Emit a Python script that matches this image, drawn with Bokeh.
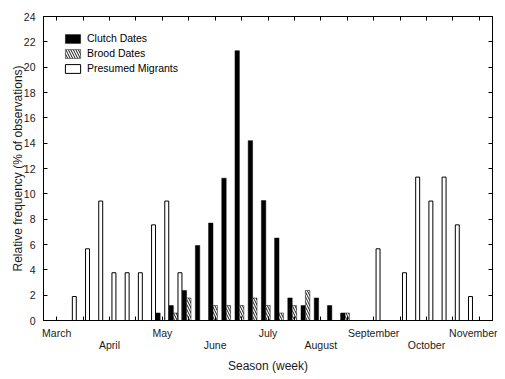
from bokeh.plotting import figure
from bokeh.models import LinearAxis, FixedTicker, Range1d, ColumnDataSource
from bokeh.transform import dodge
from bokeh.embed import file_html
from bokeh.resources import INLINE

# week index: 0 = start of March, 4 weeks per month label
weeks = list(range(33))
clutch_weeks = [8, 9, 10, 11, 12, 13, 14, 15, 16, 17, 18, 19, 20, 21, 22]
clutch_vals = [0.59, 1.18, 2.37, 5.92, 7.69, 11.24, 21.3, 14.2, 9.47, 6.51, 1.78, 1.18, 1.78, 1.18, 0.59]
brood_weeks = [9, 10, 12, 13, 14, 15, 16, 17, 18, 19, 22]
brood_vals = [0.59, 1.78, 1.18, 1.18, 1.18, 1.78, 1.18, 0.59, 1.18, 2.37, 0.59]
migr_weeks = [1, 2, 3, 4, 5, 6, 7, 8, 9, 24, 26, 27, 28, 29, 30, 31]
migr_vals = [1.89, 5.66, 9.43, 3.77, 3.77, 3.77, 7.55, 9.43, 3.77, 5.66, 3.77, 11.32, 9.43, 11.32, 7.55, 1.89]

month_ticks_row1 = [0, 8, 16, 24, 32]
month_names_row1 = ["March", "May", "July", "September", "November"]
month_ticks_row2 = [4, 12, 20, 28]
month_names_row2 = ["April", "June", "August", "October"]
week_ticks = list(range(0, 33, 2))
y_ticks = list(range(0, 25, 2))

FONT = "Liberation Sans"

p = figure(frame_width=449, frame_height=304, output_backend="svg", toolbar_location=None,
           x_range=Range1d(-1, 33), y_range=Range1d(0, 24),
           x_axis_location=None, y_axis_location=None,
           min_border_left=43, min_border_right=5, min_border_top=16, min_border_bottom=8)
p.xgrid.visible = False
p.ygrid.visible = False
p.outline_line_color = "black"
p.outline_line_width = 1
p.background_fill_color = "white"
p.border_fill_color = "white"

bw = 1 / 3
src_c = ColumnDataSource(dict(w=clutch_weeks, v=clutch_vals))
src_b = ColumnDataSource(dict(w=brood_weeks, v=brood_vals))
src_m = ColumnDataSource(dict(w=migr_weeks, v=migr_vals))

p.vbar(x=dodge("w", -bw), top="v", width=bw, source=src_c, fill_color="black",
       line_color="black", line_width=0.5, legend_label="Clutch Dates")
p.vbar(x="w", top="v", width=bw, source=src_b, fill_color="white", line_color="black",
       line_width=0.5, hatch_pattern="left_diagonal_line", hatch_color="black", hatch_scale=5,
       hatch_weight=0.9, legend_label="Brood Dates")
p.vbar(x=dodge("w", bw), top="v", width=bw * 0.9, source=src_m, fill_color="white",
       line_color="black", line_width=1, legend_label="Presumed Migrants")

def style_axis(ax, label_size="10.5px"):
    ax.major_tick_in = 4
    ax.major_tick_out = 0
    ax.minor_tick_line_color = None
    ax.axis_line_color = "black"
    ax.major_tick_line_color = "black"
    ax.major_label_text_font = FONT
    ax.major_label_text_font_size = label_size
    ax.major_label_text_color = "#1a1a1a"
    ax.axis_label_text_font = FONT
    ax.axis_label_text_font_size = "12px"
    ax.axis_label_text_font_style = "normal"
    ax.axis_label_text_color = "#1a1a1a"

# left
yl = LinearAxis(ticker=FixedTicker(ticks=y_ticks), axis_label="Relative frequency (% of observations)")
style_axis(yl)
yl.major_label_standoff = 8
yl.axis_label_standoff = -4
p.add_layout(yl, "left")

# right (ticks only)
yr = LinearAxis(ticker=FixedTicker(ticks=y_ticks), major_label_overrides={t: "" for t in y_ticks})
style_axis(yr, "0px")
yr.major_label_standoff = 0
p.add_layout(yr, "right")

# top (ticks only)
xt = LinearAxis(ticker=FixedTicker(ticks=week_ticks), major_label_overrides={t: "" for t in week_ticks})
style_axis(xt, "0px")
xt.major_label_standoff = 0
p.add_layout(xt, "above")

# bottom row 1
ov1 = {t: "" for t in week_ticks}
for t, n in zip(month_ticks_row1, month_names_row1):
    ov1[t] = n
xb1 = LinearAxis(ticker=FixedTicker(ticks=week_ticks), major_label_overrides=ov1)
style_axis(xb1)
xb1.major_label_standoff = 6
p.add_layout(xb1, "below")

# bottom row 2
xb2 = LinearAxis(ticker=FixedTicker(ticks=month_ticks_row2),
                 major_label_overrides=dict(zip(month_ticks_row2, month_names_row2)),
                 axis_label="Season (week)")
style_axis(xb2)
xb2.axis_line_color = None
xb2.major_tick_line_color = None
xb2.major_label_standoff = -3
xb2.axis_label_standoff = 5
p.add_layout(xb2, "below")

lg = p.legend[0]
lg.location = (20, 246)
lg.margin = 0
lg.padding = 0
lg.spacing = 3
lg.glyph_width = 19
lg.glyph_height = 11
lg.label_height = 11
lg.label_standoff = 5
lg.label_text_font = FONT
lg.label_text_font_size = "10.5px"
lg.label_text_color = "black"
lg.border_line_color = None
lg.background_fill_alpha = 0

open("out.html", "w").write(file_html(p, INLINE))
